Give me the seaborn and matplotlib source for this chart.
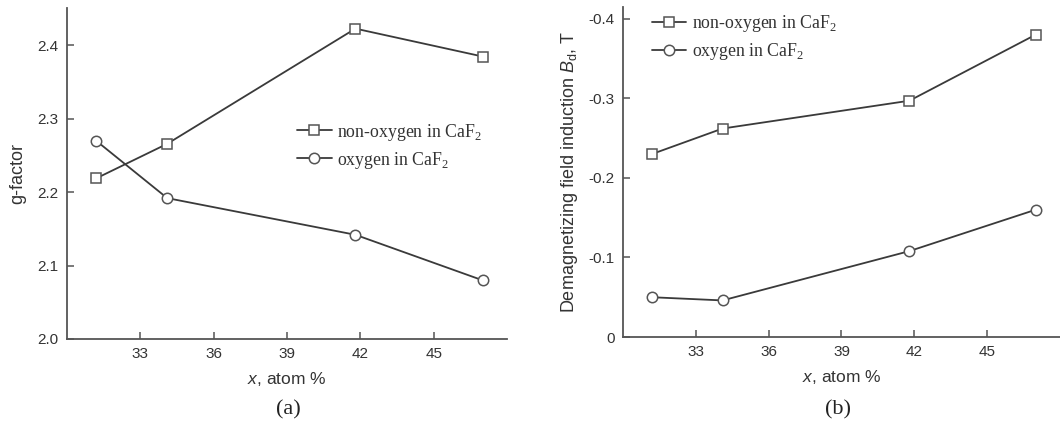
import matplotlib
matplotlib.use("Agg")
import matplotlib.pyplot as plt
import matplotlib.ticker as mticker
import seaborn as sns
import pandas as pd

# ---- data ----
x_atom = [31.2, 34.1, 41.8, 47.0]
g_non_oxygen = [2.219, 2.266, 2.423, 2.385]
g_oxygen = [2.270, 2.192, 2.142, 2.080]
bd_non_oxygen = [-0.230, -0.262, -0.297, -0.380]
bd_oxygen = [-0.050, -0.046, -0.108, -0.160]
series_names = ["non-oxygen in CaF$_\\mathregular{2}$", "oxygen in CaF$_\\mathregular{2}$"]
x_ticks = [33, 36, 39, 42, 45]
g_ticks = [2.0, 2.1, 2.2, 2.3, 2.4]
bd_ticks = [0, -0.1, -0.2, -0.3, -0.4]

sns.set_theme(style="ticks")
plt.rcParams["font.family"] = ["Liberation Sans", "DejaVu Sans"]
plt.rcParams["mathtext.fontset"] = "custom"
plt.rcParams["mathtext.it"] = "Liberation Sans:italic"
plt.rcParams["mathtext.rm"] = "Liberation Sans"

df_g = pd.DataFrame({
    "x": x_atom * 2,
    "val": g_non_oxygen + g_oxygen,
    "series": [series_names[0]] * 4 + [series_names[1]] * 4,
})
df_b = pd.DataFrame({
    "x": x_atom * 2,
    "val": bd_non_oxygen + bd_oxygen,
    "series": [series_names[0]] * 4 + [series_names[1]] * 4,
})

fig = plt.figure(figsize=(10.6, 4.25), dpi=100)
ax1 = fig.add_axes([0.0632, 0.2024, 0.4151, 0.7786])
ax2 = fig.add_axes([0.5877, 0.207, 0.4123, 0.777])

line_col = "#3a3a3a"
edge_col = "#555555"
markers = {series_names[0]: "s", series_names[1]: "o"}

for ax, df in [(ax1, df_g), (ax2, df_b)]:
    sns.lineplot(data=df, x="x", y="val", style="series", markers=markers,
                 dashes=False, color=line_col, linewidth=1.3,
                 markerfacecolor="white", markeredgecolor=edge_col,
                 markeredgewidth=1.1, markersize=7, ax=ax)
    for ln in ax.get_lines():
        if ln.get_marker() == "s":
            ln.set_markersize(6.6)
        elif ln.get_marker() == "o":
            ln.set_markersize(7.5)
    for s in ["top", "right"]:
        ax.spines[s].set_visible(False)
    for s in ["left", "bottom"]:
        ax.spines[s].set_color("#555555")
        ax.spines[s].set_linewidth(1.3)
    ax.set_xlim(30, 48)
    ax.set_xticks(x_ticks)
    ax.tick_params(direction="in", length=5, width=1.1, color="#555555",
                   labelsize=11, labelcolor="#333333", pad=6)
    ax.set_xlabel("$x$, atom %", fontsize=12.5, color="#333333", labelpad=6)

ax1.set_ylim(2.0, 2.451)
ax1.set_yticks(g_ticks)
ax1.yaxis.set_major_formatter(mticker.FormatStrFormatter("%.1f"))
ax1.set_ylabel("g-factor", fontsize=13, color="#333333", labelpad=8)

ax2.set_ylim(0, -0.415)
ax2.set_yticks(bd_ticks)
ax2.yaxis.set_major_formatter(mticker.FuncFormatter(lambda v, p: "0" if abs(v) < 1e-9 else "%.1f" % v))
ax2.set_ylabel("Demagnetizing field induction $B_\\mathregular{d}$, T", fontsize=13,
               color="#333333", labelpad=6)

for ax, anchor in [(ax1, (0.523, 0.583)), (ax2, (0.066, 0.906))]:
    handles, labels = ax.get_legend_handles_labels()
    if ax.get_legend() is not None:
        ax.get_legend().remove()
    ax.legend(handles, labels, loc="center left", bbox_to_anchor=anchor,
              frameon=False, borderpad=0, borderaxespad=0, handlelength=1.95,
              handletextpad=0.3, labelspacing=0.4,
              prop={"family": "Liberation Serif", "size": 12.8},
              labelcolor="#333333")

fig.text(0.272, 0.035, "(a)", fontsize=16, family="Liberation Serif",
         ha="center", va="center", color="#222222")
fig.text(0.791, 0.035, "(b)", fontsize=16, family="Liberation Serif",
         ha="center", va="center", color="#222222")

fig.savefig("out.png", dpi=100)
